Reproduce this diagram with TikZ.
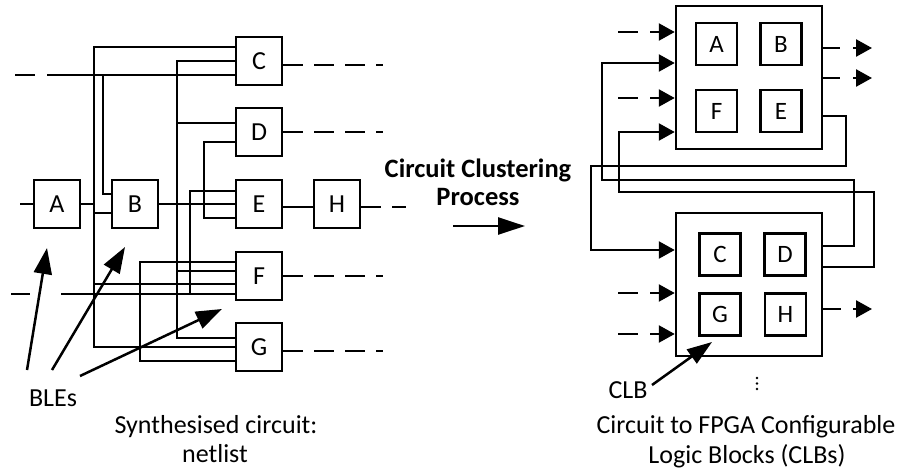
\documentclass[tikz,border=0pt]{standalone}
\usepackage{fontspec}
\setmainfont{Carlito}
\usetikzlibrary{arrows.meta}
\begin{document}
\begin{tikzpicture}[x=1pt,y=-1pt,line join=miter,
  wire/.style={line width=2.5pt},
  ble/.style={draw,line width=2.5pt,minimum width=46pt,minimum height=48pt,inner sep=0pt,font=\fontsize{26}{30}\selectfont},
  sble/.style={draw,line width=2.5pt,minimum width=41pt,minimum height=42pt,inner sep=0pt,font=\fontsize{25}{28}\selectfont},
  clb/.style={draw,line width=2.5pt,minimum width=146pt,minimum height=143pt,inner sep=0pt},
  outdash/.style={wire,dash pattern=on 20pt off 11pt},
  bigarr/.style={wire,-{Triangle[length=26pt,width=18pt]}},
  smarr/.style={wire,-{Triangle[length=16pt,width=17pt]}},
  lbl/.style={font=\fontsize{26}{30}\selectfont,inner sep=0pt,anchor=base}
]
\fill[white] (0,0) rectangle (904,472);
\useasboundingbox (0,0) rectangle (904,472);

% ---- left: synthesised circuit ----
\node[ble] (A) at (57,204) {A};
\node[ble] (B) at (135,204) {B};
\node[ble] (C) at (259,61) {C};
\node[ble] (D) at (259,132) {D};
\node[ble] (E) at (259,204) {E};
\node[ble] (F) at (259,276) {F};
\node[ble] (G) at (259,347) {G};
\node[ble] (H) at (337,204) {H};

\draw[wire] (15,75) -- (35,75);
\draw[wire] (47,75) -- (C.west |- 0,75);
\draw[wire] (103,75) |- (B.west |- 0,194);
\draw[wire] (20,204) -- (A.west);
\draw[wire] (A.east) -- (94,204);
\draw[wire] (C.west |- 0,47) -| (94,347) -- (G.west |- 0,347);
\draw[wire] (94,213) -- (B.west |- 0,213);
\draw[wire] (94,284) -- (F.west |- 0,284);
\draw[wire] (C.west |- 0,61) -| (177,338) -- (G.west |- 0,338);
\draw[wire] (177,123) -- (D.west |- 0,123);
\draw[wire] (177,271) -- (F.west |- 0,271);
\draw[wire] (B.east) -- (E.west);
\draw[wire] (D.west |- 0,142) -| (204,218) -- (E.west |- 0,218);
\draw[wire] (E.west |- 0,191) -| (190,294);
\draw[wire] (11,294) -- (30,294);
\draw[wire] (61,294) -- (F.west |- 0,294);
\draw[wire] (F.west |- 0,262) -| (140,361) -- (G.west |- 0,361);
\draw[wire] (E.east |- 0,207) -- (H.west |- 0,207);

\draw[outdash] (C.east |- 0,65) -- (383,65);
\draw[outdash] (D.east) -- (383,132);
\draw[outdash] (F.east) -- (383,276);
\draw[outdash] (G.east |- 0,351) -- (383,351);
\draw[outdash] (H.east |- 0,207) -- (406,207);

\node[lbl] (bles) at (53,406) {BLEs};
\coordinate (t1) at (27,370);
\coordinate (t2) at (52,370);
\coordinate (t3) at (80,376);
\coordinate (h1) at (47,248);
\coordinate (h2) at (125,247);
\coordinate (h3) at (222,309);
\draw[bigarr] (t1) -- (h1);
\draw[bigarr] (t2) -- (h2);
\draw[bigarr] (t3) -- (h3);

\node[lbl] (cap1a) at (216,433) {Synthesised circuit:};
\node[lbl] (cap1b) at (215,462) {netlist};

% ---- middle ----
\node[lbl,font=\bfseries\fontsize{26.5}{30}\selectfont] (cc1) at (478,177) {Circuit Clustering};
\node[lbl,font=\bfseries\fontsize{26.5}{30}\selectfont] (cc2) at (478,205) {Process};
\coordinate (pa) at (453,226);
\coordinate (pb) at (525,226);
\draw[wire,-{Triangle[length=27pt,width=17pt]}] (pa) -- (pb);

% ---- right: CLBs ----
\node[clb] (T) at (749,77.5) {};
\node[sble] (TA) at (716.5,44) {A};
\node[sble] (TB) at (781,44) {B};
\node[sble] (TF) at (716.5,111) {F};
\node[sble] (TE) at (781,111) {E};
\node[clb] (Bc) at (749,284.5) {};
\node[sble] (BC) at (720,254.5) {C};
\node[sble] (BD) at (785,254.5) {D};
\node[sble] (BG) at (720,314.5) {G};
\node[sble] (BH) at (785.5,314.5) {H};

\draw[wire] (618,32) -- (638,32);
\draw[smarr] (650,32) -- (T.west |- 0,32);
\draw[wire] (618,98) -- (638,98);
\draw[smarr] (650,98) -- (T.west |- 0,98);
\draw[wire] (618,293) -- (638,293);
\draw[smarr] (650,293) -- (Bc.west |- 0,293);
\draw[wire] (618,334) -- (638,334);
\draw[smarr] (650,334) -- (Bc.west |- 0,334);

\draw[wire] (T.east |- 0,48) -- (840,48);
\draw[smarr] (853,48) -- (872,48);
\draw[wire] (T.east |- 0,78) -- (840,78);
\draw[smarr] (853,78) -- (872,78);
\draw[wire] (Bc.east |- 0,309) -- (841,309);
\draw[smarr] (853,309) -- (872,309);

\draw[smarr] (Bc.east |- 0,246) -| (854,180) -| (602,63) -- (T.west |- 0,63);
\draw[smarr] (Bc.east |- 0,267) -| (874,192) -| (619,132) -- (T.west |- 0,132);
\draw[smarr] (T.east |- 0,116) -| (846,166) -| (591,250) -- (Bc.west |- 0,250);

\node[lbl] (clbl) at (628,398) {CLB};
\coordinate (ct) at (652,385);
\draw[wire,-{Triangle[length=25pt,width=17pt]}] (ct) -- (712,342);
\fill (757,378) circle (1.4);
\fill (757,383.5) circle (1.4);
\fill (757,389) circle (1.4);

\node[lbl] (cap2a) at (746,433) {Circuit to FPGA Configurable};
\node[lbl] (cap2b) at (747,463) {Logic Blocks (CLBs)};
\end{tikzpicture}
\end{document}
